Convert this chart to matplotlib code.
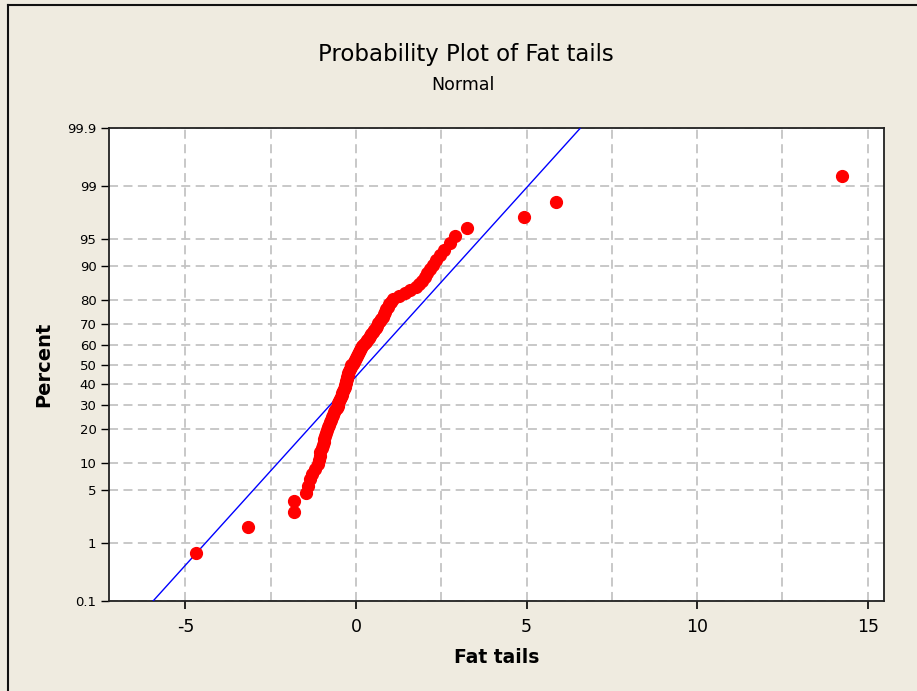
import numpy as np
import matplotlib
matplotlib.use('Agg')
import matplotlib.pyplot as plt
from matplotlib.lines import Line2D
from statistics import NormalDist

# sorted sample values (n = 100)
fat_tails = [-4.70, -3.17, -1.83, -1.82, -1.47, -1.41, -1.35, -1.29, -1.20, -1.11,
             -1.08, -1.06, -1.04, -1.01, -0.98, -0.95, -0.93, -0.90, -0.88, -0.85,
             -0.82, -0.79, -0.76, -0.73, -0.70, -0.67, -0.64, -0.61, -0.57, -0.54,
             -0.52, -0.50, -0.47, -0.45, -0.42, -0.40, -0.38, -0.36, -0.33, -0.31,
             -0.30, -0.28, -0.27, -0.25, -0.23, -0.22, -0.20, -0.18, -0.16, -0.14,
             -0.10, -0.06, -0.03, 0.01, 0.04, 0.07, 0.10, 0.13, 0.16, 0.19,
             0.23, 0.28, 0.32, 0.37, 0.41, 0.45, 0.50, 0.54, 0.58, 0.62,
             0.66, 0.70, 0.74, 0.78, 0.82, 0.85, 0.89, 0.93, 0.97, 1.02,
             1.10, 1.25, 1.43, 1.57, 1.75, 1.85, 1.93, 2.01, 2.09, 2.17,
             2.25, 2.35, 2.47, 2.59, 2.75, 2.90, 3.25, 4.92, 5.85, 14.25]

pct_ticks = [0.1, 1, 5, 10, 20, 30, 40, 50, 60, 70, 80, 90, 95, 99, 99.9]
pct_labels = ['0.1', '1', '5', '10', '20', '30', '40', '50', '60', '70', '80', '90', '95', '99', '99.9']
x_ticks = [-5, 0, 5, 10, 15]

nd = NormalDist()
_inv = np.vectorize(lambda v: nd.inv_cdf(v / 100.0) if np.isfinite(v) else np.nan, otypes=[float])
_cdf = np.vectorize(lambda v: nd.cdf(v) * 100.0 if np.isfinite(v) else np.nan, otypes=[float])

def to_z(p):
    p = np.clip(np.asarray(p, dtype=float), 1e-7, 100 - 1e-7)
    return _inv(p)

def from_z(z):
    return _cdf(np.asarray(z, dtype=float))

x = np.array(fat_tails)
n = len(x)
ranks = np.arange(1, n + 1)
pct = (ranks - 0.3) / (n + 0.4) * 100  # median ranks, like minitab

mu = x.mean()
sd = x.std(ddof=1)

bg = '#EFEBE0'
fig = plt.figure(figsize=(9.17, 6.91), dpi=100, facecolor=bg)
ax = fig.add_axes([109/917, 1 - 601/691, 775/917, 473/691])
ax.set_facecolor('white')
ax.set_yscale('function', functions=(to_z, from_z))

zz = np.linspace(-3.5, 3.5, 50)
ax.plot(mu + sd * zz, from_z(zz), color='#0000FF', lw=1.0, zorder=3)
ax.plot(x, pct, 'o', color='#FF0000', ms=8.5, mec='#FF0000', zorder=4)

ax.set_xlim(-7.24, 15.48)
ax.set_ylim(0.1, 99.9)
ax.set_xticks(x_ticks)
ax.set_xticklabels([str(t) for t in x_ticks])
ax.set_xticks([-2.5, 2.5, 7.5, 12.5], minor=True)
ax.set_yticks(pct_ticks)
ax.set_yticklabels(pct_labels)
ax.yaxis.set_minor_locator(matplotlib.ticker.NullLocator())

ax.grid(True, which='both', color='#C4C4C4', ls=(0, (5, 3)), lw=1.3)
ax.set_axisbelow(True)
ax.tick_params(axis='x', which='major', direction='out', length=6, width=1.2,
               labelsize=12.5, pad=6)
ax.tick_params(axis='x', which='minor', length=0)
ax.tick_params(axis='y', direction='out', length=6, width=1.0, labelsize=9.5, pad=3)
for s in ax.spines.values():
    s.set_linewidth(1.3)
    s.set_color('#222222')

ax.set_xlabel('Fat tails', fontsize=13.5, fontweight='bold', labelpad=9)
ax.set_ylabel('Percent', fontsize=14, fontweight='bold', labelpad=10)

fig.text(466/917, 1 - 55/691, 'Probability Plot of Fat tails', ha='center', va='center',
         fontsize=16.5)
fig.text(463/917, 1 - 85/691, 'Normal', ha='center', va='center', fontsize=12.5)

# window frame, top and left edges
fig.add_artist(Line2D([8/917, 1], [1 - 5/691, 1 - 5/691], color='#111111', lw=1.5))
fig.add_artist(Line2D([8/917, 8/917], [0, 1 - 5/691], color='#111111', lw=1.5))

plt.savefig('out.png', dpi=100, facecolor=bg)
